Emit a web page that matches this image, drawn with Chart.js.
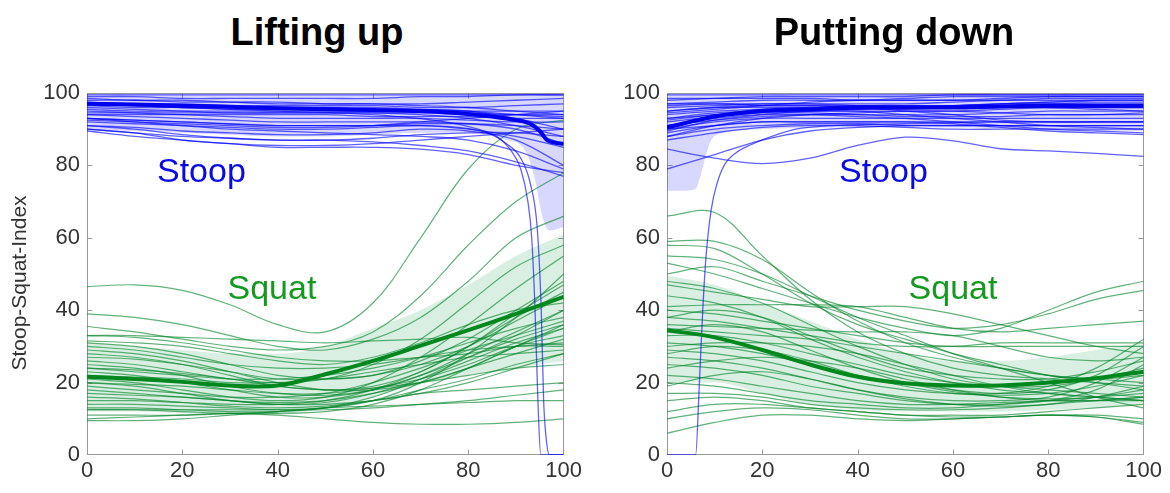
<!DOCTYPE html>
<html>
<head>
<meta charset="utf-8">
<script src="https://cdn.jsdelivr.net/npm/chart.js@4.4.1/dist/chart.umd.min.js"></script>
<style>
  html, body { margin: 0; padding: 0; background: #fff; }
  body { width: 1170px; height: 493px; position: relative; overflow: hidden; font-family: "Liberation Sans", Arial, sans-serif; }
  .panel { position: absolute; top: 0; width: 585px; height: 493px; }
  .panel h2 { position: absolute; top: 10px; margin: 0; font-size: 38px; line-height: 44px; font-weight: bold; color: #000; white-space: nowrap; transform: translateX(-50%); }
  .panel canvas { position: absolute; left: 0; top: 0; }
</style>
</head>
<body>
<div class="panel" style="left:0px"><h2 style="left:317px">Lifting up</h2><canvas id="lift" width="585" height="493"></canvas></div>
<div class="panel" style="left:580px"><h2 style="left:314px">Putting down</h2><canvas id="put" width="585" height="493"></canvas></div>
<script>
const X_GRID = [0, 10, 20, 30, 40, 50, 60, 70, 80, 90, 100];
const AXIS_TICKS = [0, 20, 40, 60, 80, 100];

// ---------- Lifting up ----------
const LIFT_STOOP = [
  [99.5, 99.5, 99.5, 99.5, 99.5, 99.5, 99.5, 99.5, 99.5, 99.5, 99.5],
  [99, 99, 98.5, 98.5, 98.5, 98.5, 98.5, 99, 99, 99.5, 99.5],
  [98.5, 98, 98, 97.5, 97, 97, 97, 96.5, 96, 95, 94],
  [98, 98, 97.5, 97.5, 97.5, 97, 97, 97, 97.5, 98, 98.5],
  [97.5, 97, 97, 96.5, 96.5, 96.5, 96.5, 96, 96, 96.5, 97],
  [97, 97, 96.5, 96, 96, 96, 95.5, 95.5, 95, 94, 93],
  [97, 96.5, 96, 96, 96, 96, 96, 95.5, 95, 93, 90],
  [96.5, 96, 96, 95.5, 95.5, 95.5, 95.5, 95, 94.5, 94, 93.5],
  [96, 95.5, 95, 94.5, 94.5, 94.5, 94.5, 94, 93, 91, 88],
  [95.5, 95, 95, 95, 95, 95, 95, 95, 95, 95, 95],
  [95, 94.5, 94, 93.5, 93, 93, 93, 93, 92.5, 92, 92],
  [94.5, 94.5, 94.5, 94.5, 94.5, 94.5, 94.5, 94.5, 94, 94, 94],
  [94, 94, 94, 94, 94, 94, 93.5, 93.5, 93.5, 93, 93],
  [94, 93.5, 93, 92.5, 92, 92, 92, 92, 91.5, 90, 86],
  [93, 92.5, 92, 91.5, 91, 91, 91, 91.5, 91.5, 91, 90],
  [93, 92, 91, 90, 89.5, 89, 88.5, 88, 87, 84, 79],
  [92, 91.5, 91, 90.5, 90, 90, 90.5, 91, 90, 88, 85],
  [91, 90.5, 89.5, 89, 88.5, 88.5, 89, 90, 89.5, 87, 80],
  [91, 90, 88.5, 87.5, 87, 87, 86.5, 85.5, 84, 81, 77],
  [90, 89, 88, 87.5, 87, 87, 87.5, 88.5, 89, 89, 88],
  [90, 89, 87, 86, 85, 85, 85, 84.5, 83, 80, 78],
  [89.5, 88, 87, 86, 85.5, 85.5, 86, 87, 88, 89, 90],
  [92.5, 92, 91.5, 91, 90.5, 90.5, 91, 92, 93, 94, 95]
];
// two stoop trials that collapse to zero near the end
const LIFT_DROP_A_X = [0, 20, 40, 60, 75, 82, 86, 89, 91, 92.5, 93.3, 94, 94.6, 95.2, 100];
const LIFT_DROP_A = [97, 96, 95, 94, 92, 90, 88, 84, 79, 70, 60, 40, 15, 0, 0];
const LIFT_DROP_B_X = [0, 20, 40, 60, 70, 78, 84, 88, 91, 93, 94.5, 95.3, 95.8, 96.3, 97, 100];
const LIFT_DROP_B = [93, 92, 91, 91, 91, 90.5, 89, 86, 82, 75, 62, 40, 15, 5, 0, 0];
const LIFT_STOOP_MEAN_X = [0, 10, 20, 30, 40, 50, 60, 70, 80, 85, 90, 93, 95, 96.5, 98, 100];
const LIFT_STOOP_MEAN = [97, 96.8, 96.5, 96.2, 95.8, 95.5, 95.3, 95, 94.2, 93.5, 92.5, 91.5, 89.5, 87, 86.3, 86];
const LIFT_STOOP_BAND_X = [0, 10, 20, 30, 40, 50, 60, 70, 80, 88, 92, 94, 95.5, 97, 100];
const LIFT_STOOP_HI = [99.8, 99.8, 99.8, 99.8, 99.8, 99.8, 99.8, 99.8, 99.8, 99.8, 99.8, 99.8, 99.8, 99.8, 99.8];
const LIFT_STOOP_LO = [90, 89.5, 89, 88.5, 88, 88, 88.5, 89, 89, 87, 84, 76, 66, 62, 63];

const LIFT_SQUAT = [
  [46.5, 47, 45.5, 41.5, 36, 34, 42, 60, 79, 90, 92.5],
  [39, 38, 36, 33, 30, 29, 32, 38, 48, 60, 66],
  [35.5, 34, 32, 30, 29, 30, 34, 44, 58, 70, 78],
  [33, 33, 32.5, 32, 31.5, 31, 31.5, 32, 32.5, 31, 30.5],
  [31, 30, 28, 25, 22, 21, 22, 26, 32, 40, 48],
  [29, 28, 26, 23, 20, 18, 18, 20, 24, 30, 35],
  [27, 26.5, 25, 23, 21, 21, 22, 25, 30, 37, 44],
  [25, 24, 22, 19, 17, 16.5, 18, 22, 28, 34, 40],
  [23, 22, 20, 18, 16, 16, 18, 22, 27, 32, 36],
  [20, 19, 17, 15, 14, 14.5, 17, 21, 26, 31, 35],
  [18, 17, 16, 15, 14, 14, 15, 17, 18, 19, 20],
  [16, 15.5, 14.5, 13.5, 13, 13.5, 15, 18, 21, 25, 28],
  [14, 14, 13.5, 13, 12.5, 12.5, 13, 14, 15, 16.5, 18],
  [12.5, 12.5, 12, 11.5, 11.5, 12, 14, 18, 24, 30, 36],
  [12.5, 12.5, 12.5, 12.5, 12.5, 13, 15, 20, 28, 38, 50],
  [10, 10.5, 11, 11.5, 11, 10, 9, 8.5, 8.5, 9, 10],
  [9.5, 9.5, 10, 11, 12, 13, 15, 17, 20, 24, 28],
  [11, 11, 11, 11.5, 12, 13, 13.5, 14, 14.5, 15, 15],
  [15, 15, 14.5, 14, 14, 15, 18, 23, 30, 38, 45],
  [21, 20, 18, 16, 15, 16, 20, 27, 36, 46, 55],
  [26, 25, 23, 21, 20, 21, 25, 32, 42, 52, 58],
  [24, 23, 22, 21, 21, 22, 24, 27, 31, 35, 38],
  [30, 29, 27, 25, 24, 24, 25, 27, 29, 30, 31],
  [33, 32.5, 31, 29, 27, 26, 26, 27, 28, 30, 30],
  [22, 21.5, 21, 20, 20, 21, 23, 25, 27, 28, 29],
  [19, 18, 17, 16, 16, 17, 20, 24, 29, 33, 37],
  [28, 27, 25, 22, 19, 18, 19, 23, 30, 39, 47],
  [17, 16.5, 16, 15, 14.5, 15, 17, 20, 24, 28, 32],
  [13, 13, 12.5, 12, 12, 13, 16, 21, 27, 33, 40],
  [24, 23.5, 22.5, 21, 19, 18, 18.5, 20, 22, 24, 25],
  [20, 19.5, 19, 18, 17, 17, 18.5, 21, 25, 30, 33],
  [31.5, 31, 30, 28, 26, 25, 27, 31, 36, 40, 42]
];
const LIFT_SQUAT_MEAN = [21.6, 21, 20.2, 19.2, 19.2, 22.3, 26, 30.2, 34.5, 39, 43.7];
const LIFT_SQUAT_HI = [31, 30, 29, 28, 28, 30, 35, 40, 47, 55, 61];
const LIFT_SQUAT_LO = [12, 12, 11.5, 11, 11, 13, 16, 19.5, 22, 24, 26];

// ---------- Putting down ----------
const PUT_STOOP = [
  [99.5, 99.5, 99.5, 99.5, 99.5, 99.5, 99.5, 99.5, 99.5, 99.5, 99.5],
  [98, 98.5, 99, 99, 99, 99, 99.5, 99.5, 99.5, 99.5, 99.5],
  [97, 97.5, 98, 98, 98, 98.5, 99, 99, 99, 99, 99],
  [96, 96.5, 97, 97, 97, 97, 97.5, 98, 98.5, 98.5, 98.5],
  [95, 96, 96.5, 96.5, 96, 96, 96.5, 97, 97.5, 98, 98],
  [94, 95, 95.5, 95.5, 95.5, 95.5, 96, 96.5, 97, 97, 97],
  [93, 94, 95, 95, 95, 95, 95, 95.5, 96, 96, 96],
  [92, 93.5, 94.5, 94.5, 94, 94, 94, 94.5, 95, 95, 95],
  [91, 92.5, 93.5, 94, 94, 93.5, 93.5, 93.5, 94, 94, 94],
  [90, 92, 93, 93, 93, 93, 93, 93, 93, 93, 93],
  [89, 91, 92, 92, 92, 92, 92, 92, 92, 92, 92],
  [88, 90, 91, 91.5, 91.5, 91, 91, 91, 91, 91, 91],
  [87, 89, 90.5, 91, 91, 90.5, 90, 90, 90, 90, 90],
  [91, 93, 94, 94, 93.5, 93, 92, 91, 90, 89.5, 89],
  [93, 94.5, 95, 95, 95, 94, 93, 92, 91, 90.5, 90],
  [95, 96, 96, 96, 96, 95, 94, 92.5, 92, 92, 92],
  [96.5, 97, 97, 97, 96.5, 96, 96, 96, 96, 95.5, 95],
  [98.5, 98.5, 98.5, 98.5, 98, 98, 98, 98.5, 99, 99, 99],
  [90, 91, 92, 92, 92, 92, 91.5, 90.5, 89.5, 89, 88.5],
  [97, 97, 96.5, 96.5, 96.5, 96.5, 96.5, 97, 97.5, 97.5, 97.5],
  [92.5, 94, 95.5, 96, 96.5, 96.5, 96.5, 96.5, 96, 96, 96],
  [89.5, 92.5, 94, 95, 95.5, 96, 96.5, 97, 97, 96.5, 96.5],
  [94.5, 95.5, 96.5, 97.5, 98, 98, 98, 98, 98, 98, 98],
  [88, 91, 93, 94, 94.5, 95, 95, 94.5, 94, 94, 94.5],
  [84.5, 82, 80.5, 82, 85.5, 87.8, 86.8, 84.6, 84, 83.3, 82.5],
  [79, 83, 87, 89.5, 90.5, 91, 91, 91, 91, 91, 91]
];
// one stoop trial that starts at zero and jumps up
const PUT_RISE_X = [0, 6, 6.8, 7.5, 8.2, 9.3, 10.5, 12, 14.5, 17.6, 22, 27, 35, 50, 70, 100];
const PUT_RISE = [0, 0, 20, 40, 55, 68, 75, 80, 83.5, 85.7, 88, 90, 91, 91.5, 92, 92];
const PUT_STOOP_MEAN = [90.5, 93.5, 95, 95.5, 96, 96, 96, 96.3, 96.5, 96.5, 96.5];
const PUT_STOOP_BAND_X = [0, 3, 6, 7, 8, 9.3, 12, 20, 40, 60, 80, 100];
const PUT_STOOP_HI = [99.8, 99.8, 99.8, 99.8, 99.8, 99.8, 99.8, 99.8, 99.8, 99.8, 99.8, 99.8];
const PUT_STOOP_LO = [73, 73, 73.5, 77, 82, 87, 89, 90, 90.5, 90.5, 90, 89.5];

const PUT_SQUAT = [
  [66, 67, 55, 43, 34, 28, 24, 22, 21, 20, 19],
  [59, 59, 54, 45, 37, 31, 27, 24, 22, 21, 20],
  [58, 57, 50, 42, 36, 32, 28, 25, 22, 20, 18],
  [55, 54, 50, 44, 38, 33, 28, 24, 20, 16, 13],
  [53, 50, 46, 42, 38, 35, 33, 35, 40, 45, 48],
  [50, 52, 48, 44, 40, 37, 35, 36, 39, 43, 45.5],
  [47, 45, 43, 41, 41, 41, 39, 36, 33, 30, 28],
  [41, 41.5, 41.5, 41.5, 41, 38, 35, 34, 35, 36, 37],
  [40, 39, 37, 35, 33, 31, 30, 30, 30, 30, 30],
  [38, 37, 35, 33, 31, 30, 30, 31, 31, 31, 31],
  [36, 35.5, 35, 34.5, 34, 34, 33, 30, 27, 26, 27],
  [35, 34, 33, 32, 30, 28, 26, 24, 22, 21, 22],
  [33, 33, 31, 28, 25, 22, 20, 19, 19, 21, 24],
  [31, 30, 28, 25, 22, 20, 18, 17, 18, 22, 30],
  [29, 28, 26, 23, 20, 18, 17, 17, 19, 24, 32],
  [27, 26, 24, 21, 18, 16, 15, 15, 16, 20, 27],
  [25, 24, 22, 19, 17, 15, 14, 14, 15, 18, 25],
  [22, 21, 19, 17, 15, 14, 14, 14.5, 15, 16, 17],
  [20, 19, 17, 15, 14, 13, 13, 14, 15, 15, 15],
  [17, 17, 16, 14, 13, 12.5, 12.5, 13, 14, 15, 16],
  [15, 16, 15, 13, 12, 11, 11, 11, 12, 13, 14],
  [12, 14, 14, 13, 12, 11, 10.5, 10.5, 11, 11, 10],
  [10, 12, 13, 12.5, 11, 10, 10, 10.5, 11, 10.5, 8.5],
  [6, 9, 11, 11, 10, 9.5, 10, 10.5, 11, 10.5, 9],
  [44, 42, 38, 32, 27, 23, 20, 18, 17, 16, 15],
  [48, 46, 42, 36, 30, 25, 21, 19, 18, 17, 16],
  [30, 31, 31, 30, 28, 25, 22, 19, 17, 16, 15],
  [24, 26, 27, 26, 24, 21, 18, 16, 15, 15, 16],
  [38, 40, 38, 33, 28, 24, 22, 21, 21, 23, 26],
  [28, 30, 29, 26, 22, 19, 17, 16.5, 17, 19, 22],
  [34, 36, 34, 29, 24, 20, 17.5, 16, 15.5, 16, 18],
  [19, 22, 23, 21, 18, 15.5, 14, 13.5, 14, 16, 19]
];
const PUT_SQUAT_MEAN = [34.5, 32.5, 29, 25, 21.6, 19.8, 19.2, 19.2, 20, 21.2, 23];
const PUT_SQUAT_HI = [49.5, 47, 42, 37, 32, 28, 26, 26, 27, 29, 31];
const PUT_SQUAT_LO = [20, 20, 17, 14, 12.5, 12, 12, 12, 12.5, 13, 14];

const FONT = '"Liberation Sans", Arial, sans-serif';
const BLUE_THIN = 'rgba(0, 0, 255, 0.62)';
const GREEN_THIN = 'rgba(0, 130, 40, 0.62)';
const BLUE_MEAN = 'rgb(0, 0, 235)';
const GREEN_MEAN = 'rgb(0, 135, 30)';
const BLUE_BAND = 'rgba(60, 60, 255, 0.2)';
const GREEN_BAND = 'rgba(0, 150, 60, 0.15)';

function pts(xs, ys) {
  return xs.map((x, i) => ({ x: x, y: ys[i] }));
}
function line(xs, ys, color, width, order) {
  return { data: pts(xs, ys), borderColor: color, borderWidth: width, fill: false, order: order, tension: 0.35 };
}
// steep curves: monotone keeps them from overshooting
function steep(xs, ys, color, width, order) {
  return { data: pts(xs, ys), borderColor: color, borderWidth: width, fill: false, order: order, cubicInterpolationMode: 'monotone' };
}
function band(xs, hi, lo, color) {
  return [
    { data: pts(xs, hi), borderWidth: 0, borderColor: 'transparent', backgroundColor: color, fill: '+1', order: 6, cubicInterpolationMode: 'monotone' },
    { data: pts(xs, lo), borderWidth: 0, borderColor: 'transparent', fill: false, order: 6, cubicInterpolationMode: 'monotone' }
  ];
}

// axes box with inward ticks on all four sides, group labels and y title
const frame = {
  id: 'frame',
  beforeDatasetsDraw(chart) {
    const { ctx, chartArea: a, scales: { x, y } } = chart;
    const l = Math.round(a.left) + 0.5, r = Math.round(a.right) - 0.5;
    const t = Math.round(a.top) + 0.5, b = Math.round(a.bottom) - 0.5;
    ctx.save();
    ctx.strokeStyle = '#9a9a9a';
    ctx.lineWidth = 1;
    ctx.strokeRect(l, t, r - l, b - t);
    ctx.beginPath();
    AXIS_TICKS.slice(1, -1).forEach(v => {
      const px = Math.round(x.getPixelForValue(v)) + 0.5;
      ctx.moveTo(px, b); ctx.lineTo(px, b - 5);
      ctx.moveTo(px, t); ctx.lineTo(px, t + 5);
      const py = Math.round(y.getPixelForValue(v)) + 0.5;
      ctx.moveTo(l, py); ctx.lineTo(l + 5, py);
      ctx.moveTo(r, py); ctx.lineTo(r - 5, py);
    });
    ctx.stroke();
    ctx.restore();
  },
  afterDatasetsDraw(chart, args, opts) {
    const { ctx, scales: { x, y } } = chart;
    ctx.save();
    ctx.font = '34px ' + FONT;
    ctx.textAlign = 'center';
    ctx.textBaseline = 'middle';
    (opts.labels || []).forEach(lb => {
      ctx.fillStyle = lb.color;
      ctx.fillText(lb.text, x.getPixelForValue(lb.x), y.getPixelForValue(lb.y));
    });
    if (opts.yTitle) {
      ctx.translate(20, 283);
      ctx.rotate(-Math.PI / 2);
      ctx.font = '21px ' + FONT;
      ctx.fillStyle = '#333';
      ctx.fillText(opts.yTitle, 0, 0);
    }
    ctx.restore();
  }
};

function makeChart(id, datasets, labels, yTitle) {
  return new Chart(document.getElementById(id), {
    type: 'line',
    data: { datasets: datasets },
    plugins: [frame],
    options: {
      responsive: false,
      animation: false,
      devicePixelRatio: 1,
      layout: { padding: { top: 93, right: 18, bottom: 0, left: 0 } },
      elements: { point: { radius: 0 } },
      plugins: {
        legend: { display: false },
        tooltip: { enabled: false },
        frame: { labels: labels, yTitle: yTitle }
      },
      scales: {
        x: {
          type: 'linear', min: 0, max: 100,
          grid: { display: false, drawTicks: false },
          border: { display: false },
          ticks: { stepSize: 20, padding: 3, maxRotation: 0, color: '#333', font: { family: FONT, size: 22 } },
          afterFit(s) { s.height = 38; }
        },
        y: {
          type: 'linear', min: 0, max: 100,
          grid: { display: false, drawTicks: false },
          border: { display: false },
          ticks: { stepSize: 20, padding: 7, color: '#333', font: { family: FONT, size: 22 } },
          afterFit(s) { s.width = 87; }
        }
      }
    }
  });
}

const liftSets = [].concat(
  band(LIFT_STOOP_BAND_X, LIFT_STOOP_HI, LIFT_STOOP_LO, BLUE_BAND),
  band(X_GRID, LIFT_SQUAT_HI, LIFT_SQUAT_LO, GREEN_BAND),
  LIFT_SQUAT.map(ys => line(X_GRID, ys, GREEN_THIN, 1.2, 4)),
  LIFT_STOOP.map(ys => line(X_GRID, ys, BLUE_THIN, 1.3, 3)),
  [steep(LIFT_DROP_A_X, LIFT_DROP_A, BLUE_THIN, 1.3, 3),
   steep(LIFT_DROP_B_X, LIFT_DROP_B, BLUE_THIN, 1.3, 3),
   line(X_GRID, LIFT_SQUAT_MEAN, GREEN_MEAN, 4, 2),
   steep(LIFT_STOOP_MEAN_X, LIFT_STOOP_MEAN, BLUE_MEAN, 4, 1)]
);
const putSets = [].concat(
  band(PUT_STOOP_BAND_X, PUT_STOOP_HI, PUT_STOOP_LO, BLUE_BAND),
  band(X_GRID, PUT_SQUAT_HI, PUT_SQUAT_LO, GREEN_BAND),
  PUT_SQUAT.map(ys => line(X_GRID, ys, GREEN_THIN, 1.2, 4)),
  PUT_STOOP.map(ys => line(X_GRID, ys, BLUE_THIN, 1.3, 3)),
  [steep(PUT_RISE_X, PUT_RISE, BLUE_THIN, 1.3, 3),
   line(X_GRID, PUT_SQUAT_MEAN, GREEN_MEAN, 4, 2),
   line(X_GRID, PUT_STOOP_MEAN, BLUE_MEAN, 4, 1)]
);

makeChart('lift', liftSets, [
  { text: 'Stoop', x: 24, y: 78, color: '#0a0ae6' },
  { text: 'Squat', x: 38.8, y: 45.6, color: '#139a1e' }
], 'Stoop-Squat-Index');
makeChart('put', putSets, [
  { text: 'Stoop', x: 45.4, y: 78, color: '#0a0ae6' },
  { text: 'Squat', x: 60, y: 45.6, color: '#139a1e' }
], null);
</script>
</body>
</html>
